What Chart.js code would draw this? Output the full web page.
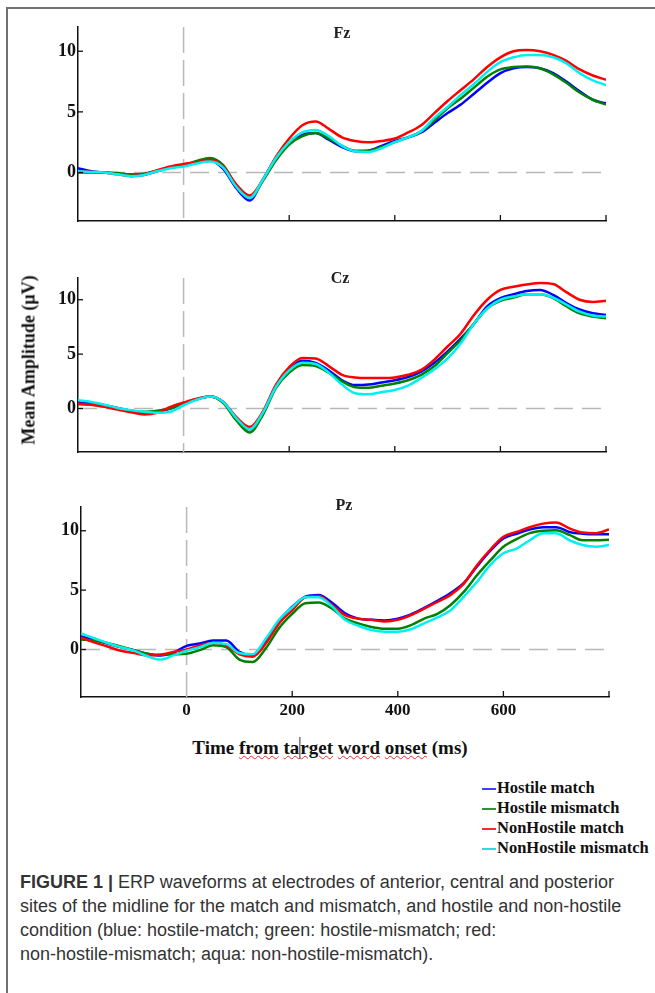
<!DOCTYPE html>
<html lang="en">
<head>
<meta charset="UTF-8">
<title>ERP waveforms Fz Cz Pz</title>
<script src="https://cdn.jsdelivr.net/npm/chart.js"></script>
<style>
    body {margin: 0;
          width: 655px;
          height: 993px;
          background: #fff;
          position: relative;
          overflow: hidden;}

    .frame {position: absolute;
            left: 6px; top: 7px;
            width: 700px; height: 1100px;
            border-left: 2px solid #707070;
            border-top: 2px solid #707070;}

    canvas {position: absolute; left: 0;}

    .ptitle {position: absolute;
             transform: translate(-50%, -50%);
             font: bold 16px "Liberation Serif", serif;
             color: #222;}

    .ytitle {position: absolute;
             left: 29px; top: 360px;
             transform: translate(-50%, -50%) rotate(-90deg);
             white-space: nowrap;
             font: bold 18px "Liberation Serif", serif;
             color: #111;}

    .xtitle {position: absolute;
             left: 330px; top: 748px;
             transform: translate(-50%, -50%);
             white-space: nowrap;
             font: bold 19px "Liberation Serif", serif;
             color: #111;}
    .sp {text-decoration: underline wavy #e03030;
         text-decoration-thickness: 1px;}
    .cur {display: inline-block; width: 1px; height: 22px;
          background: #333; vertical-align: -5px;}

    .legend {position: absolute; left: 482px; top: 778px;
             font: bold 16.5px "Liberation Serif", serif; color: #111;}
    .legend div {height: 20px; line-height: 20px; white-space: nowrap;}
    .legend span {display: inline-block; width: 14px; height: 2px;
                  vertical-align: middle; margin-right: 1px;}

    .caption {position: absolute; left: 20px; top: 870px;
              font: 18px "Liberation Sans", Arial, sans-serif;
              line-height: 24px; color: #333; white-space: nowrap;}
</style>
</head>
<body>
<div class="frame"></div>

<canvas id="fz" width="655" height="245" style="top:0px"></canvas>
<canvas id="cz" width="655" height="225" style="top:250px"></canvas>
<canvas id="pz" width="655" height="250" style="top:480px"></canvas>

<div class="ptitle" style="left:342px; top:33px">Fz</div>
<div class="ptitle" style="left:340px; top:278px">Cz</div>
<div class="ptitle" style="left:344px; top:505px">Pz</div>

<div class="ytitle">Mean Amplitude (&mu;V)</div>
<div class="xtitle">Time <span class="sp">from</span> <span class="sp">ta<span class="cur"></span>rget</span> <span class="sp">word</span> <span class="sp">onset</span> (ms)</div>

<div class="legend" id="legend"></div>

<div class="caption"><b>FIGURE 1 |</b> ERP waveforms at electrodes of anterior, central and posterior<br>sites of the midline for the match and mismatch, and hostile and non-hostile<br>condition (blue: hostile-match; green: hostile-mismatch; red:<br>non-hostile-mismatch; aqua: non-hostile-mismatch).</div>

<script>
// time points (ms)
const times = [-200, -175, -150, -125, -100, -75, -50, -25, 0, 25, 50, 75, 100, 125, 150, 175, 200,
               225, 250, 275, 300, 325, 350, 375, 400, 425, 450, 475, 500, 525, 550, 575, 600,
               625, 650, 675, 700, 725, 750, 775, 800];

const seriesLabels = ['Hostile match', 'Hostile mismatch', 'NonHostile match', 'NonHostile mismatch'];
const seriesColors = ['#0000ff', '#008000', '#ff0000', '#00f0f0'];
const legendColors = ['#4040ff', '#2e962e', '#ff2a2a', '#30dada'];

const yTickValues = [0, 5, 10];
const xLabelValues = [0, 200, 400, 600];
const xMarkValues = [200, 400, 600, 800];

// Fz
const fzHostileMatch = [0.35, 0.1, 0.0, -0.1, -0.25, -0.2, 0.1, 0.4, 0.6, 0.85, 1.0, 0.3, -1.3, -2.3, -0.6, 1.2, 2.4,
    3.1, 3.25, 2.7, 2.1, 1.75, 1.8, 2.2, 2.6, 2.9, 3.3, 4.1, 4.9, 5.6, 6.5, 7.4, 8.2,
    8.6, 8.7, 8.6, 8.2, 7.5, 6.7, 6.0, 5.7];
const fzHostileMismatch = [0.0, 0.0, 0.0, -0.05, -0.15, -0.1, 0.15, 0.4, 0.6, 0.95, 1.2, 0.6, -1.1, -2.1, -0.7, 1.0, 2.3,
    3.0, 3.25, 2.8, 2.2, 1.8, 1.8, 2.1, 2.5, 2.9, 3.4, 4.3, 5.3, 6.1, 7.0, 7.9, 8.5,
    8.7, 8.75, 8.6, 8.1, 7.4, 6.6, 6.0, 5.6];
const fzNonHostileMatch = [0.1, 0.05, 0.0, -0.15, -0.3, -0.15, 0.2, 0.5, 0.7, 0.85, 1.05, 0.5, -1.0, -1.9, -0.6, 1.3, 2.8,
    3.9, 4.2, 3.6, 2.9, 2.6, 2.5, 2.6, 2.8, 3.3, 3.9, 4.9, 5.9, 6.8, 7.7, 8.7, 9.5,
    10.0, 10.1, 10.0, 9.7, 9.2, 8.5, 8.0, 7.65];
const fzNonHostileMismatch = [0.1, 0.05, 0.0, -0.15, -0.3, -0.2, 0.1, 0.35, 0.5, 0.75, 0.9, 0.4, -1.2, -2.1, -0.6, 1.2, 2.5,
    3.3, 3.5, 3.0, 2.2, 1.75, 1.7, 2.0, 2.5, 2.9, 3.4, 4.5, 5.4, 6.4, 7.3, 8.3, 9.1,
    9.5, 9.7, 9.7, 9.5, 9.0, 8.2, 7.6, 7.2];

// Cz
const czHostileMatch = [0.6, 0.5, 0.3, 0.05, -0.2, -0.4, -0.3, 0.0, 0.45, 0.85, 1.1, 0.6, -0.9, -1.9, -0.4, 2.1, 3.6,
    4.4, 4.2, 3.5, 2.6, 2.15, 2.2, 2.4, 2.6, 2.9, 3.4, 4.2, 5.25, 6.45, 7.8, 9.4, 10.15,
    10.5, 10.8, 10.9, 10.45, 9.7, 9.1, 8.75, 8.6];
const czHostileMismatch = [0.4, 0.35, 0.2, 0.0, -0.2, -0.3, -0.2, 0.0, 0.45, 0.85, 1.1, 0.5, -1.1, -2.2, -0.6, 1.9, 3.3,
    4.0, 3.9, 3.3, 2.5, 1.95, 1.9, 2.1, 2.3, 2.6, 3.1, 3.9, 5.1, 6.3, 7.8, 9.2, 9.9,
    10.2, 10.5, 10.5, 10.15, 9.4, 8.75, 8.45, 8.3];
const czNonHostileMatch = [0.45, 0.35, 0.15, -0.1, -0.35, -0.55, -0.4, 0.15, 0.55, 0.9, 1.1, 0.6, -0.8, -1.7, -0.3, 2.2, 3.8,
    4.65, 4.6, 3.9, 3.1, 2.85, 2.8, 2.8, 2.85, 3.1, 3.55, 4.5, 5.7, 6.9, 8.6, 10.0, 10.9,
    11.2, 11.4, 11.55, 11.45, 10.7, 10.0, 9.8, 9.9];
const czNonHostileMismatch = [0.75, 0.6, 0.35, 0.05, -0.15, -0.3, -0.4, -0.3, 0.3, 0.8, 1.1, 0.6, -0.9, -1.9, -0.4, 2.0, 3.5,
    4.2, 4.1, 3.3, 2.2, 1.4, 1.3, 1.5, 1.7, 2.1, 2.8, 3.6, 4.6, 6.0, 7.8, 9.2, 10.0,
    10.3, 10.5, 10.5, 10.2, 9.55, 8.9, 8.55, 8.45];

// Pz
const pzHostileMatch = [1.1, 0.8, 0.5, 0.2, -0.05, -0.35, -0.5, -0.25, 0.3, 0.5, 0.75, 0.75, -0.2, -0.5, 0.8, 2.4, 3.6,
    4.45, 4.6, 3.95, 3.05, 2.6, 2.5, 2.45, 2.6, 2.95, 3.5, 4.1, 4.75, 5.6, 7.0, 8.3, 9.35,
    9.75, 10.1, 10.3, 10.3, 9.9, 9.75, 9.7, 9.7];
const pzHostileMismatch = [0.85, 0.75, 0.55, 0.25, -0.05, -0.35, -0.45, -0.4, -0.35, -0.05, 0.35, 0.2, -0.85, -1.05, 0.1, 1.8, 3.0,
    3.9, 3.95, 3.45, 2.6, 2.2, 1.9, 1.75, 1.75, 2.05, 2.6, 3.0, 3.75, 4.85, 6.25, 7.5, 8.65,
    9.3, 9.8, 10.0, 10.05, 9.65, 9.2, 9.2, 9.25];
const pzNonHostileMatch = [1.0, 0.6, 0.25, -0.1, -0.3, -0.5, -0.45, -0.2, 0.0, 0.35, 0.55, 0.35, -0.4, -0.6, 0.5, 2.2, 3.3,
    4.4, 4.5, 3.75, 2.9, 2.6, 2.5, 2.35, 2.5, 2.9, 3.45, 4.0, 4.6, 5.55, 7.1, 8.4, 9.5,
    9.9, 10.3, 10.6, 10.7, 10.2, 9.85, 9.8, 10.1];
const pzNonHostileMismatch = [1.35, 0.95, 0.55, 0.2, -0.1, -0.55, -0.85, -0.5, -0.1, 0.2, 0.55, 0.45, -0.3, -0.4, 0.9, 2.5, 3.55,
    4.4, 4.4, 3.65, 2.5, 2.0, 1.65, 1.5, 1.5, 1.7, 2.2, 2.7, 3.3, 4.45, 5.7, 7.1, 8.1,
    8.5, 9.2, 9.8, 9.8, 9.2, 8.8, 8.65, 8.8];

// legend
const legendBox = document.getElementById('legend');
seriesLabels.forEach((lab, i) => {
    const row = document.createElement('div');
    const sw = document.createElement('span');
    sw.style.background = legendColors[i];
    row.appendChild(sw);
    row.appendChild(document.createTextNode(lab));
    legendBox.appendChild(row);
});

// dashed zero lines + inward tick marks
const guides = {
    id: 'guides',
    beforeDatasetsDraw(chart) {
        const {ctx, chartArea: a, scales: {x, y}} = chart;
        ctx.save();
        ctx.strokeStyle = '#b8b8b8';
        ctx.lineWidth = 1.5;
        ctx.setLineDash([19, 9]);
        const y0 = y.getPixelForValue(0);
        ctx.beginPath(); ctx.moveTo(a.left, y0); ctx.lineTo(a.right, y0); ctx.stroke();
        ctx.setLineDash([26, 7]);
        const x0 = x.getPixelForValue(0);
        ctx.beginPath(); ctx.moveTo(x0, a.top); ctx.lineTo(x0, a.bottom); ctx.stroke();
        ctx.restore();
    },
    afterDraw(chart) {
        const {ctx, chartArea: a, scales: {x, y}} = chart;
        ctx.save();
        ctx.strokeStyle = '#111';
        ctx.lineWidth = 1.3;
        yTickValues.forEach(v => {
            const py = y.getPixelForValue(v);
            ctx.beginPath(); ctx.moveTo(a.left, py); ctx.lineTo(a.left + 5, py); ctx.stroke();
        });
        xMarkValues.forEach(v => {
            const px = x.getPixelForValue(v);
            ctx.beginPath(); ctx.moveTo(px, a.bottom); ctx.lineTo(px, a.bottom - 6); ctx.stroke();
        });
        ctx.restore();
    }
};

function makePanel(id, values, box, showX) {
    const datasets = values.map((vals, i) => ({
        label: seriesLabels[i],
        data: times.map((t, k) => ({x: t, y: vals[k]})),
        borderColor: seriesColors[i],
        borderWidth: 2.5,
        pointRadius: 0,
        cubicInterpolationMode: 'monotone',
        order: 4 - i
    }));
    const cv = document.getElementById(id);
    const yW = 60, xH = showX ? 30 : 0;
    new Chart(cv, {
        type: 'line',
        data: {datasets: datasets},
        options: {
            responsive: false,
            animation: false,
            events: [],
            layout: {padding: {
                left: box.left - yW,
                right: cv.width - box.right,
                top: box.top - box.canvasTop,
                bottom: cv.height - (box.bottom - box.canvasTop) - xH}},
            plugins: {legend: {display: false}, tooltip: {enabled: false}},
            scales: {
                x: {
                    type: 'linear', min: -200, max: 800,
                    grid: {display: false, drawTicks: false},
                    border: {display: true, color: '#111', width: 1.5},
                    afterBuildTicks: s => { s.ticks = xLabelValues.map(v => ({value: v})); },
                    afterFit: s => { s.height = xH; },
                    ticks: {display: showX, padding: 3, color: '#111',
                            font: {family: 'Liberation Serif', weight: 'bold', size: 17}}
                },
                y: {
                    min: -4, max: 12,
                    grid: {display: false, drawTicks: false},
                    border: {display: true, color: '#111', width: 1.5},
                    afterBuildTicks: s => { s.ticks = yTickValues.map(v => ({value: v})); },
                    afterFit: s => { s.width = yW; },
                    ticks: {padding: 2, color: '#111',
                            font: {family: 'Liberation Serif', weight: 'bold', size: 18}}
                }
            }
        },
        plugins: [guides]
    });
}

makePanel('fz', [fzHostileMatch, fzHostileMismatch, fzNonHostileMatch, fzNonHostileMismatch],
          {canvasTop: 0, left: 78, right: 606, top: 27, bottom: 221}, false);
makePanel('cz', [czHostileMatch, czHostileMismatch, czNonHostileMatch, czNonHostileMismatch],
          {canvasTop: 250, left: 78, right: 606, top: 278, bottom: 452}, false);
makePanel('pz', [pzHostileMatch, pzHostileMismatch, pzNonHostileMatch, pzNonHostileMismatch],
          {canvasTop: 480, left: 81, right: 609, top: 507, bottom: 697}, true);
</script>
</body>
</html>
